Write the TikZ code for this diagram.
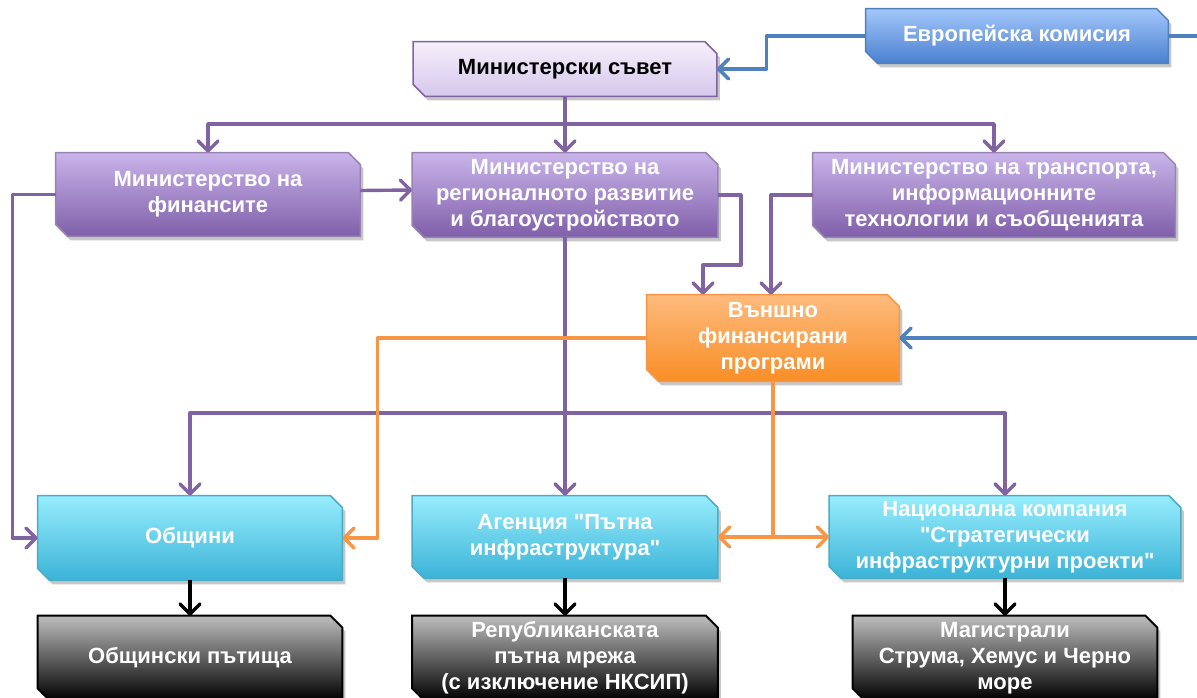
\documentclass[tikz,border=0pt]{standalone}
\usepackage{fontspec}
\setmainfont{Liberation Sans}[Ligatures=TeXOff]
\usetikzlibrary{arrows.meta,calc}
\pgfdeclarelayer{background}
\pgfsetlayers{background,main}
\definecolor{pline}{HTML}{8064A2}
\definecolor{oline}{HTML}{F79646}
\definecolor{bline}{HTML}{4F81BD}
\definecolor{cline}{HTML}{4BACC6}
\definecolor{bluetop}{RGB}{163,200,251}
\definecolor{bluebot}{RGB}{74,127,207}
\definecolor{lavtop}{RGB}{245,240,251}
\definecolor{lavbot}{RGB}{214,199,236}
\definecolor{purtop}{RGB}{201,180,234}
\definecolor{purbot}{RGB}{127,95,169}
\definecolor{ortop}{RGB}{253,187,125}
\definecolor{orbot}{RGB}{249,142,38}
\definecolor{cytop}{RGB}{151,237,253}
\definecolor{cybot}{RGB}{59,179,215}
\definecolor{grtop}{RGB}{190,190,190}
\newcommand\snipshape[2]{%
  \fill[black,opacity=0.22] ($(#1.north west)+(3,4)$) -- ($(#1.north east)+(-9,4)$) -- ($(#1.north east)+(3,16)$) -- ($(#1.south east)+(3,4)$) -- ($(#1.south west)+(15,4)$) -- ($(#1.south west)+(3,-8)$) -- cycle;
  \path[#2] (#1.north west) -- ($(#1.north east)+(-12,0)$) -- ($(#1.north east)+(0,12)$) -- (#1.south east) -- ($(#1.south west)+(12,0)$) -- ($(#1.south west)+(0,-12)$) -- cycle;
}
\begin{document}
\begin{tikzpicture}[x=0.5pt,y=-0.5pt,
  box/.style={rectangle, inner sep=0pt, align=center, text=white,
    font=\bfseries\fontsize{11}{13}\selectfont},
  bluebox/.style={top color=bluetop, bottom color=bluebot, draw=bline, line width=0.75pt},
  lavbox/.style={top color=lavtop, bottom color=lavbot, draw=pline, line width=0.75pt},
  purbox/.style={top color=purtop, bottom color=purbot, draw=pline!80, line width=0.75pt},
  orbox/.style={top color=ortop, bottom color=orbot, draw=oline, line width=0.75pt},
  cybox/.style={top color=cytop, bottom color=cybot, draw=cline, line width=0.75pt},
  grbox/.style={top color=grtop, bottom color=black, draw=black, line width=1pt},
  arr/.style={-{Straight Barb[length=5pt,width=10pt,round]}},
  pc/.style={draw=pline, line width=1.7pt, line join=round},
  oc/.style={draw=oline, line width=1.7pt, line join=round},
  bc/.style={draw=bline, line width=1.7pt, line join=round},
  kc/.style={draw=black, line width=1.7pt, line join=round}
]
\useasboundingbox (0,0) rectangle (1197,697);
\clip (0,0) rectangle (1197,697);
% nodes
\node[box, minimum width=151pt, minimum height=27pt] (ek) at (1017,36) {Европейска комисия};
\node[box, text=black, minimum width=151.5pt, minimum height=27pt] (ms) at (565,69) {Министерски съвет};
\node[box, minimum width=152pt, minimum height=41.5pt] (mf) at (208,194.5) {Министерство на\\финансите};
\node[box, minimum width=152.5pt, minimum height=42pt] (mrrb) at (565,195) {Министерство на\\регионалното развитие\\и благоустройството};
\node[box, minimum width=181pt, minimum height=42pt] (mtits) at (994,195) {Министерство на транспорта,\\информационните\\технологии и съобщенията};
\node[box, minimum width=126pt, minimum height=43pt] (vfp) at (773,338) {Външно\\финансирани\\програми};
\node[box, minimum width=152pt, minimum height=42pt] (ob) at (190,538) {Общини};
\node[box, minimum width=152.5pt, minimum height=41pt] (api) at (565,537) {Агенция "Пътна\\инфраструктура"};
\node[box, minimum width=175.5pt, minimum height=41pt] (nk) at (1005,537) {Национална компания\\"Стратегически\\инфраструктурни проекти"};
\node[box, minimum width=152pt, minimum height=42pt] (op) at (190,658) {Общински пътища};
\node[box, minimum width=152.5pt, minimum height=42pt] (rep) at (565,658) {Републиканската\\пътна мрежа\\(с изключение НКСИП)};
\node[box, minimum width=152pt, minimum height=42pt] (mag) at (1005,658) {Магистрали\\Струма, Хемус и Черно\\море};
\begin{pgfonlayer}{background}
\snipshape{ek}{bluebox}
\snipshape{ms}{lavbox}
\snipshape{mf}{purbox}
\snipshape{mrrb}{purbox}
\snipshape{mtits}{purbox}
\snipshape{vfp}{orbox}
\snipshape{ob}{cybox}
\snipshape{api}{cybox}
\snipshape{nk}{cybox}
\snipshape{op}{grbox}
\snipshape{rep}{grbox}
\snipshape{mag}{grbox}
\end{pgfonlayer}
% junction coordinates
\coordinate (j1) at (565,124);
\coordinate (j2) at (565,413);
\coordinate (j3) at (773,537);
\coordinate (r1) at (1197,36);
\coordinate (r2) at (1197,338);
% purple connectors
\draw[pc,arr] (ms.south) -- (mrrb.north);
\draw[pc,arr] (j1) -| (mf.north);
\draw[pc,arr] (j1) -| (mtits.north);
\draw[pc,arr] (mf.west) -- ++(-43,0) |- (ob.west);
\draw[pc,arr] ($(mf.east)+(0,-4)$) -- ($(mrrb.west)+(0,-5)$);
\draw[pc,arr] (mrrb.east) -| ++(23,70) -| ($(vfp.north)+(-70,0)$);
\draw[pc,arr] (mtits.west) -| ($(vfp.north)+(-2,0)$);
\draw[pc,arr] (mrrb.south) -- (api.north);
\draw[pc,arr] (j2) -| (ob.north);
\draw[pc,arr] (j2) -| (nk.north);
% orange connectors
\draw[oc,arr] (vfp.west) -- ++(-269,0) |- (ob.east);
\draw[oc] (vfp.south) -- (j3);
\draw[oc,arr] (j3) -- (api.east);
\draw[oc,arr] (j3) -- (nk.west);
% blue connectors
\draw[bc,arr] (ek.west) -- ++(-99,0) |- (ms.east);
\draw[bc] (ek.east) -- (r1);
\draw[bc,arr] (r2) -- (vfp.east);
% black connectors
\draw[kc,arr] (ob.south) -- (op.north);
\draw[kc,arr] (api.south) -- (rep.north);
\draw[kc,arr] (nk.south) -- (mag.north);
\end{tikzpicture}
\end{document}
